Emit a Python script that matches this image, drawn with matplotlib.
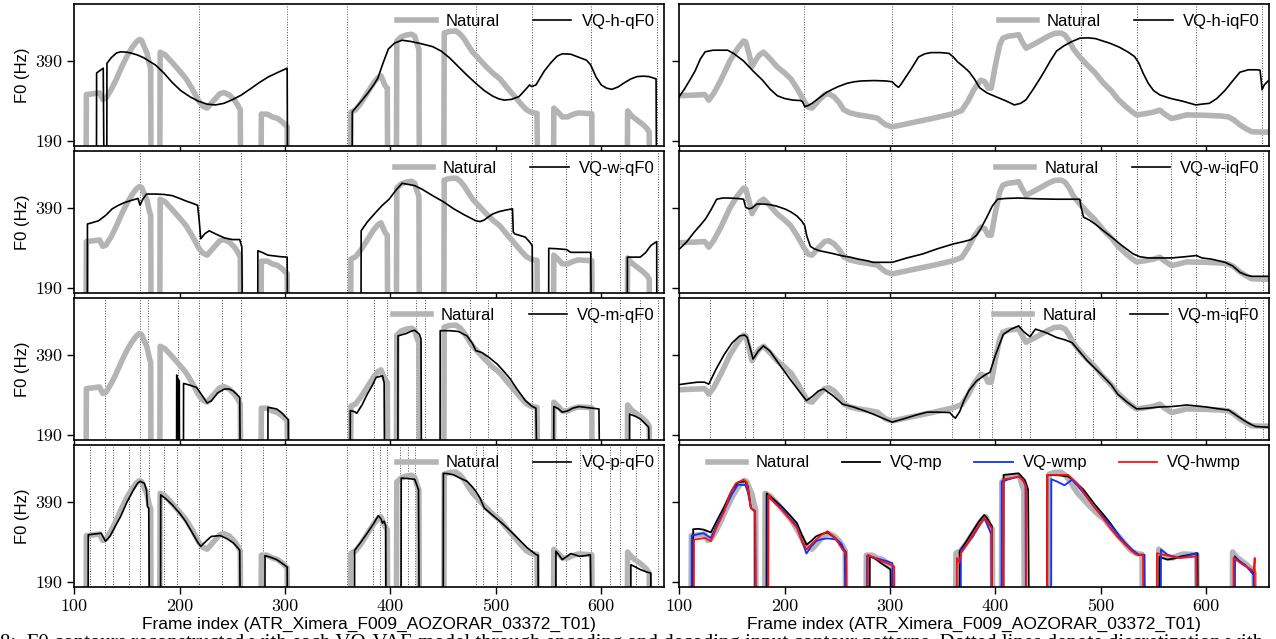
import numpy as np
import matplotlib
matplotlib.use("Agg")
import matplotlib.pyplot as plt

# F0 contours: (frame, Hz); unvoiced frames drawn as 0
natural = [
    (111, 0), (111.5, 306), (118, 308), (124, 310), (127, 294), (130, 297), (135, 318), (140, 345),
    (145, 375), (150, 402), (155, 424), (159, 438), (162, 444), (164, 441), (166, 428), (169, 410),
    (171, 385), (172.5, 372), (173, 0),
    (181, 0), (181.5, 412), (186, 406), (193, 386), (200, 365), (206, 346), (212, 320), (218, 290),
    (222, 277), (226, 272), (232, 290), (238, 308), (242, 311), (247, 305), (252, 292), (255, 280),
    (257.5, 268), (258, 0),
    (277, 0), (277.5, 257), (283, 257), (288, 250), (293, 246), (298, 236), (302, 225), (302.5, 0),
    (362, 0), (362.5, 262), (367, 268), (372, 285), (378, 310), (384, 335), (388, 348), (391, 353),
    (393, 340), (395, 328), (397, 322), (397.5, 0),
    (405.5, 0), (406, 440), (410, 450), (415, 455), (420, 457), (423, 452), (425.5, 430), (427, 420),
    (427.5, 0),
    (450.5, 0), (451, 460), (456, 464), (462, 465), (466, 458), (470, 445), (474, 428), (478, 412),
    (483, 398), (490, 378), (497, 360), (504, 345), (511, 322), (518, 301), (524, 282), (529, 268),
    (534, 261), (539, 259), (540, 0),
    (554.5, 0), (555, 272), (559, 262), (563, 250), (568, 250), (573, 256), (578, 260), (585, 259),
    (591, 258), (591.5, 0),
    (624.5, 0), (625, 265), (629, 252), (634, 242), (639, 232), (643, 222), (645.5, 212), (646, 0),
]

natural_interp = [
    (100, 303), (108, 304), (118, 305), (124, 306), (126, 300), (128, 292), (133, 310), (140, 345),
    (148, 390), (155, 420), (161, 440), (163, 438), (166, 410), (169, 376), (172, 390), (176, 405),
    (180, 412), (186, 396), (193, 375), (200, 360), (206, 345), (212, 320), (218, 292), (222, 275),
    (226, 272), (232, 290), (238, 306), (242, 308), (247, 300), (252, 285), (256, 268), (262, 260),
    (270, 255), (280, 251), (288, 247), (292, 238), (296, 230), (302, 225), (320, 235), (340, 246),
    (360, 258), (368, 266), (374, 290), (380, 320), (386, 342), (390, 338), (393, 322), (396, 322),
    (400, 380), (404, 430), (407, 447), (412, 452), (418, 454), (422, 456), (425, 440), (429, 422),
    (435, 430), (442, 440), (450, 452), (456, 459), (462, 460), (466, 455), (470, 440), (474, 420),
    (480, 400), (487, 380), (494, 362), (502, 336), (510, 315), (516, 295), (524, 275), (530, 262),
    (534, 255), (542, 258), (550, 262), (556, 267), (560, 258), (567, 246), (574, 250), (581, 255),
    (600, 254), (615, 252), (621, 250), (626, 243), (632, 230), (638, 220), (643, 213), (650, 212),
    (660, 212),
]

vq_h_q = [
    (121, 0), (121.2, 360), (127.5, 372), (128.5, 0), (130.8, 0), (131, 384), (135, 398), (140, 410),
    (144, 413), (150, 412), (155, 409), (160, 405), (166, 398), (172, 388), (177, 380), (185, 360),
    (193, 336), (201, 316), (210, 300), (218, 289), (226, 282), (234, 280), (242, 284), (250, 293),
    (258, 304), (267, 320), (275, 335), (284, 350), (292, 360), (302, 372), (302.5, 0),
    (363.5, 0), (363.8, 263), (370, 282), (378, 308), (384, 330), (388, 347), (393, 385), (398, 420),
    (404, 435), (411, 442), (419, 439), (428, 434), (440, 426), (448, 415), (456, 398), (464, 377),
    (472, 356), (481, 334), (489, 316), (497, 302), (503, 295), (508, 292), (515, 294), (522, 301),
    (528, 318), (532, 330), (534, 326), (538, 330), (546, 365), (552, 385), (558, 402), (563, 408),
    (571, 407), (578, 400), (586, 392), (590, 380), (595, 350), (600, 330), (605, 322), (610, 319),
    (616, 325), (621, 334), (628, 345), (634, 351), (640, 352), (645, 351), (650, 347), (652, 345),
    (652.6, 0),
]

vq_h_iq = [
    (100, 301), (105, 320), (110, 342), (115, 365), (120, 395), (124.6, 413), (132, 417), (140, 417),
    (146, 417), (152, 408), (161, 390), (170, 365), (179, 342), (186, 320), (193, 303), (200, 296),
    (208, 292), (215, 291), (217, 288), (219, 276), (222, 278), (226, 284), (233, 298), (240, 312),
    (250, 325), (259, 334), (266, 338), (273, 340), (285, 341), (296, 340), (302, 338), (305, 330),
    (308, 324), (310, 330), (313, 342), (320, 370), (327, 400), (333, 408), (339, 411), (348, 411),
    (356, 409), (360, 400), (364, 388), (370, 375), (375, 363), (380, 345), (385, 323), (392, 310),
    (400, 301), (410, 290), (418, 280), (424, 284), (429, 293), (436, 320), (442, 345), (447, 367),
    (452, 390), (458, 415), (465, 428), (472, 438), (480, 447), (488, 448), (495, 446), (502, 440),
    (509, 434), (518, 424), (526, 412), (532, 401), (536, 385), (540, 360), (545, 334), (550, 316),
    (556, 305), (565, 297), (578, 289), (590, 280), (596, 282), (603, 284), (610, 296), (618, 317),
    (625, 340), (632, 362), (640, 368), (648, 368), (651, 367), (652, 345), (653, 318), (655, 330),
    (659.5, 342),
]

vq_w_q = [
    (112.3, 0), (112.5, 350), (118, 354), (123, 358), (130, 372), (136, 388), (142, 397), (148, 404),
    (154, 409), (160.5, 414), (162.4, 397), (165, 412), (168.6, 425), (176.8, 425), (185, 424),
    (193, 421), (200, 414), (205.6, 408), (212, 402), (217, 397), (218.5, 360), (220, 313), (224, 326),
    (228, 333), (235, 324), (242.6, 315), (250, 311), (257, 311), (259, 292), (259.8, 0),
    (274, 0), (274.2, 283), (279, 278), (283.6, 272), (290, 270), (296, 268), (302, 267), (302.5, 0),
    (372, 0), (372.2, 333), (378, 355), (386, 379), (392, 396), (398.7, 412), (405, 434), (411, 452),
    (417, 449), (423, 446), (430, 437), (440, 421), (450, 406), (460, 388), (470, 373), (481, 358),
    (485, 356), (489, 360), (493, 368), (497, 375), (503, 381), (509.6, 385), (515.8, 388),
    (516.5, 330), (518, 325), (522, 322), (528, 317), (532, 305), (534.5, 296), (535, 0),
    (550, 0), (550.2, 289), (558, 288), (567, 286), (571, 279), (580, 279), (590, 279), (591, 0),
    (624.6, 0), (624.8, 267), (630, 267), (637, 267), (642, 278), (647, 296), (652.6, 306), (652.8, 0),
]

vq_w_iq = [
    (100, 287), (107, 305), (114, 329), (120, 347), (125, 363), (130, 385), (135.5, 412), (141, 415),
    (146, 415), (155, 414), (161, 412), (163, 392), (166, 388), (169, 390), (173.6, 400), (179, 400),
    (184.5, 399), (192, 395), (200.8, 387), (206, 380), (211.7, 370), (216, 358), (219, 346),
    (221, 320), (224.4, 294), (228, 288), (233, 283), (244, 277), (255, 270), (262, 267), (270, 262),
    (278, 258), (284, 254), (290, 254), (302, 254), (316, 265), (331, 275), (345, 288), (360, 300),
    (370, 306), (377, 311), (382, 322), (386, 338), (392, 368), (397, 395), (402, 412), (410, 414),
    (422, 415), (440, 413), (458, 412), (470, 412), (480, 412), (481, 395), (483.6, 367), (489, 360),
    (494.5, 350), (503, 332), (512.6, 312), (520, 296), (530.7, 275), (537, 268), (545, 265),
    (556, 265), (567, 265), (580, 268), (590.6, 271), (596, 265), (605, 262), (617.8, 254), (625, 245),
    (632, 229), (638, 222), (643, 219), (659.5, 219),
]

vq_m_q = [
    (197, 0), (197.2, 340), (197.7, 335), (198, 0), (198.5, 0), (198.7, 330), (199.3, 0), (199.6, 325),
    (200, 0),
    (203.5, 0), (203.7, 319), (209, 315), (216, 309), (221, 290), (226, 270), (230, 275), (236, 295),
    (242.5, 305), (247, 305), (250.8, 300), (254, 292), (257, 284), (257.8, 0),
    (283.6, 0), (283.8, 259), (288, 257), (292, 255), (297, 245), (303, 228), (303.5, 0),
    (361.7, 0), (361.9, 251), (366, 248), (368, 244), (373, 265), (378, 292), (383, 315), (386.4, 334),
    (392.5, 338), (394, 320), (394.6, 0),
    (407, 0), (407.2, 438), (415, 444), (420, 450), (423, 452), (427.5, 442), (429, 430), (429.5, 0),
    (447, 0), (447.2, 451), (456, 451), (464.4, 449), (472.6, 438), (478, 418), (481, 401), (487, 396),
    (494, 383), (501.4, 367), (508, 348), (513.7, 330), (520, 305), (528, 276), (534, 262), (538, 257),
    (539.6, 0),
    (554.8, 0), (555, 261), (559, 256), (563, 247), (568, 250), (573, 257), (579, 261), (588, 258),
    (597.8, 255), (598.8, 0),
    (626.7, 0), (626.9, 242), (632, 237), (637, 230), (641, 220), (645, 209), (646.4, 0),
]

vq_m_iq = [
    (100, 316), (108, 319), (117, 322), (124, 322), (128, 317), (135, 355), (142.8, 392), (150, 420),
    (157.3, 438), (162, 440), (164.5, 434), (167, 410), (170, 380), (175, 400), (179.8, 413),
    (186, 400), (197, 359), (205, 330), (213, 302), (220.7, 276), (226, 286), (232, 300), (237, 305),
    (245, 290), (255, 267), (265, 260), (275, 251), (284, 242), (292, 233), (302, 222), (315, 232),
    (325, 240), (335, 247), (345, 247), (356.7, 246), (360, 236), (362, 232), (366, 248), (370, 275),
    (374.8, 301), (382, 325), (390, 340), (394.8, 347), (400, 390), (407.5, 442), (415, 455),
    (422, 463), (427, 448), (432.8, 436), (438, 455), (448, 446), (458, 434), (466, 428), (472.7, 421),
    (480, 398), (487, 376), (494, 358), (501.7, 338), (510, 315), (516, 292), (525, 272), (534, 255),
    (545, 257), (556, 260), (567, 261), (575, 263), (581.5, 265), (600, 260), (610, 256), (621.4, 252),
    (628, 240), (635.9, 226), (641, 218), (646.8, 211), (659.5, 209),
]

vq_p_q = [
    (113.1, 0), (113.3, 308), (119, 310), (125.5, 312), (129.6, 292), (134, 305), (140, 335),
    (144, 354), (150, 390), (156.3, 421), (160, 437), (162.4, 442), (166.5, 437), (168.5, 420),
    (169.4, 379), (170.7, 375), (171.5, 0),
    (181.8, 0), (182, 408), (187, 398), (193, 383), (200, 362), (205.6, 342), (212, 313), (217, 290),
    (220, 279), (225, 292), (230, 304), (238.5, 306), (245, 298), (250.8, 288), (255, 276), (257, 269),
    (257.8, 0),
    (280.8, 0), (281, 256), (286, 252), (292, 246), (297, 237), (302, 227), (302.5, 0),
    (365.8, 0), (366, 269), (372, 290), (378, 312.5), (384, 336), (388.4, 356), (391, 348),
    (392.5, 337), (394, 342), (395.5, 330), (395.8, 0),
    (410, 0), (410.2, 450), (416, 449), (423, 447), (426.6, 421), (427.5, 0),
    (450, 0), (450.2, 462), (455, 461), (460, 458), (466, 450), (472.6, 442), (477, 430), (481, 417),
    (485, 400), (489, 375), (497, 357), (505.5, 338), (514, 317), (522, 296), (530, 275), (538.4, 258),
    (540, 257), (540.4, 0),
    (556.8, 0), (557, 267), (560, 257), (563, 246), (567, 253), (571, 261), (575, 258), (579.5, 254),
    (585, 256), (589.7, 258), (591, 0),
    (627.9, 0), (628.1, 233), (632, 228), (637, 221), (642, 216), (647, 212), (647.5, 0),
]

vq_mp = [
    (113, 0), (113.2, 322), (118, 323), (123, 321), (130, 314), (136, 345), (142.8, 379), (150, 420),
    (155.5, 439), (162.7, 442), (165, 430), (168, 375), (171.8, 367), (172.5, 0),
    (182.7, 0), (182.9, 412), (190, 396), (197, 379), (204, 360), (211.7, 337), (216, 310),
    (220.7, 283), (225, 292), (229.8, 304), (235, 310), (240.7, 314), (248, 300), (255, 275),
    (258, 265), (258.3, 0),
    (280.6, 0), (280.8, 254), (286, 248), (291.4, 237), (296, 229), (300.5, 221), (301.6, 0),
    (365.8, 0), (366, 267), (372, 290), (378.5, 317), (384, 340), (389.3, 358), (392, 350),
    (394.8, 337), (396.6, 330), (396.9, 0),
    (407.5, 0), (407.7, 458), (415, 460), (422, 462), (428, 445), (431, 421), (432, 0),
    (449, 0), (449.2, 458), (460, 457), (469, 454), (476, 440), (483.6, 421), (489, 402), (494.5, 383),
    (502, 360), (509, 337), (516, 310), (523.5, 283), (530, 268), (536, 258), (541, 258), (541.3, 0),
    (555.4, 0), (555.6, 254), (558, 250), (563.4, 246), (570, 249), (576, 254), (584, 258),
    (591.7, 262), (592.4, 0),
    (626.8, 0), (627, 254), (631, 243), (636, 233), (641, 222), (645, 212), (645.5, 0),
]

vq_wmp = [
    (111.6, 0), (111.8, 306), (117, 309), (123, 312), (130, 300), (136, 335), (142.8, 371), (150, 410),
    (155.5, 433), (162.7, 433), (165, 415), (168, 375), (172, 367), (172.6, 0),
    (183.8, 0), (184, 404), (190, 390), (197, 375), (204, 352), (211.7, 329), (216, 295), (220.7, 261),
    (225, 278), (229.8, 292), (235, 297), (240.7, 299), (249.8, 296), (254, 285), (257, 267), (258, 0),
    (278, 0), (278.2, 256), (285, 251), (291.4, 246), (297, 242), (302.3, 237), (303, 0),
    (367, 0), (367.2, 269), (373, 285), (378.5, 304), (384, 328), (389.3, 350), (392, 335),
    (394.8, 317), (396, 310), (396.3, 0),
    (405.7, 0), (405.9, 442), (414, 448), (422, 454), (426, 445), (428.5, 433), (429, 0),
    (452.8, 0), (453, 447), (458, 442), (465.5, 432), (472.7, 446), (478, 430), (483.6, 412),
    (489, 394), (494.5, 375), (502, 354), (509, 333), (516, 310), (523.5, 287), (530, 270), (536, 258),
    (541.5, 258), (542, 0),
    (556.8, 0), (557, 271), (560, 265), (563.4, 258), (568, 255), (574, 250), (582, 255), (590.6, 262),
    (591, 0),
    (626.8, 0), (627, 252), (632, 241), (637.7, 231), (641, 220), (645, 208), (645.5, 0),
]

vq_hwmp = [
    (113.8, 0), (114, 296), (119, 298), (124.6, 300), (130, 292), (136, 330), (142.8, 367), (148, 410),
    (153.7, 437), (161, 446), (164, 440), (168, 375), (172, 367), (173, 0),
    (184.5, 0), (184.7, 408), (190, 390), (197, 371), (204, 350), (211.7, 325), (216, 296),
    (220.7, 271), (225, 284), (229.8, 296), (235, 308), (240.7, 317), (248, 300), (255, 271),
    (258.5, 260), (259, 0),
    (278.8, 0), (279, 258), (285, 251), (291.4, 242), (298, 236), (304, 229), (304.5, 0),
    (363.2, 0), (363.4, 250), (365.8, 238), (367.5, 263), (373, 285), (378.5, 308), (384, 330),
    (389.3, 350), (392, 343), (394.8, 331), (396.5, 325), (397, 0),
    (407.5, 0), (407.7, 447), (415, 450), (422, 454), (426, 445), (429, 429), (429.5, 0),
    (449, 0), (449.2, 458), (460, 458), (469, 458), (474, 446), (480, 429), (487, 402), (494.5, 375),
    (502, 350), (509, 325), (516, 302), (523.5, 283), (529, 268), (534, 258), (540, 258), (540.5, 0),
    (553, 0), (553.2, 262), (558, 259), (563.4, 256), (570, 252), (576, 250), (584, 252), (590.6, 254),
    (591.5, 0),
    (625.7, 0), (625.9, 250), (631, 240), (636, 231), (641, 224), (645, 217), (646, 250), (646.3, 0),
]

# segment boundaries (dotted lines) for each level
bounds_h = [218, 302, 359, 481, 534, 590, 653]
bounds_w = [162, 218, 258, 301, 359, 481, 514, 534, 567, 590, 618, 653.5]
bounds_m = [129, 162, 170, 198, 218, 240, 258, 301, 359, 384, 397, 424, 433, 475, 493, 514,
            534, 567, 590, 618, 637, 653.5]
bounds_p = [115, 129, 136.5, 152, 162, 170.7, 185, 197.5, 218, 240, 258, 279.5, 301, 359, 383,
            389.7, 396.6, 409, 417, 423, 481, 488, 501, 514, 534, 556.8, 567, 579.5, 590, 608,
            618, 633, 653.5]

xticks = [100, 200, 300, 400, 500, 600]
yticks = [190, 390]
xlabel = "Frame index (ATR_Ximera_F009_AOZORAR_03372_T01)"
caption = ("8:  F0 contours reconstructed with each VQ-VAE model through encoding and decoding "
           "input contour patterns. Dotted lines denote discretization with")

GRAY = "#b4b4b4"

plt.rcParams["font.family"] = ["Liberation Sans", "DejaVu Sans"]

fig, axes = plt.subplots(4, 2, figsize=(12.76, 6.39), dpi=100, sharex=True, sharey=True)
fig.subplots_adjust(left=0.0582, right=0.9949, top=0.9933, bottom=0.0818, wspace=0.025, hspace=0.04)


def curve(ax, pts, **kw):
    x, y = np.array(pts).T
    ax.plot(x, y, **kw)


def panel(ax, nat, model, name, bounds):
    for b in bounds:
        ax.axvline(b, color="0.3", ls=":", lw=0.7, zorder=0)
    curve(ax, nat, color=GRAY, lw=4, label="Natural")
    curve(ax, model, color="k", lw=1.2, label=name)
    ax.legend(loc="upper right", ncol=2, frameon=False, fontsize=12, handlelength=2.3,
              columnspacing=2.0, handletextpad=0.6, borderaxespad=0.2)


panel(axes[0, 0], natural, vq_h_q, "VQ-h-qF0", bounds_h)
panel(axes[0, 1], natural_interp, vq_h_iq, "VQ-h-iqF0", bounds_h)
panel(axes[1, 0], natural, vq_w_q, "VQ-w-qF0", bounds_w)
panel(axes[1, 1], natural_interp, vq_w_iq, "VQ-w-iqF0", bounds_w)
panel(axes[2, 0], natural, vq_m_q, "VQ-m-qF0", bounds_m)
panel(axes[2, 1], natural_interp, vq_m_iq, "VQ-m-iqF0", bounds_m)
panel(axes[3, 0], natural, vq_p_q, "VQ-p-qF0", bounds_p)

ax = axes[3, 1]
curve(ax, natural, color=GRAY, lw=4, label="Natural")
curve(ax, vq_mp, color="k", lw=1.3, label="VQ-mp")
curve(ax, vq_wmp, color="#1030ff", lw=1.3, label="VQ-wmp")
curve(ax, vq_hwmp, color="#ff1010", lw=1.3, label="VQ-hwmp")
ax.legend(loc="upper center", ncol=4, frameon=False, fontsize=12, handlelength=2.3,
          columnspacing=1.9, handletextpad=0.6, borderaxespad=0.2)

for ax in axes.flat:
    ax.set_xlim(100, 660)
    ax.set_ylim(178, 532)
    ax.set_xticks(xticks)
    ax.set_yticks(yticks)
    ax.tick_params(labelsize=13, labelfontfamily="cmr10", length=5, width=1)
    for s in ax.spines.values():
        s.set_linewidth(1.2)

for ax in axes[:, 0]:
    ax.set_ylabel("F0 (Hz)", fontsize=12, labelpad=4)
for ax in axes[3, :]:
    ax.set_xlabel(xlabel, fontsize=12.5, labelpad=2)

# caption of the source page, cut off at the bottom edge as in the original
fig.text(0.0, 0.0085, caption, family="Liberation Serif", fontsize=15, va="top", ha="left")

fig.savefig("out.png", dpi=100)
